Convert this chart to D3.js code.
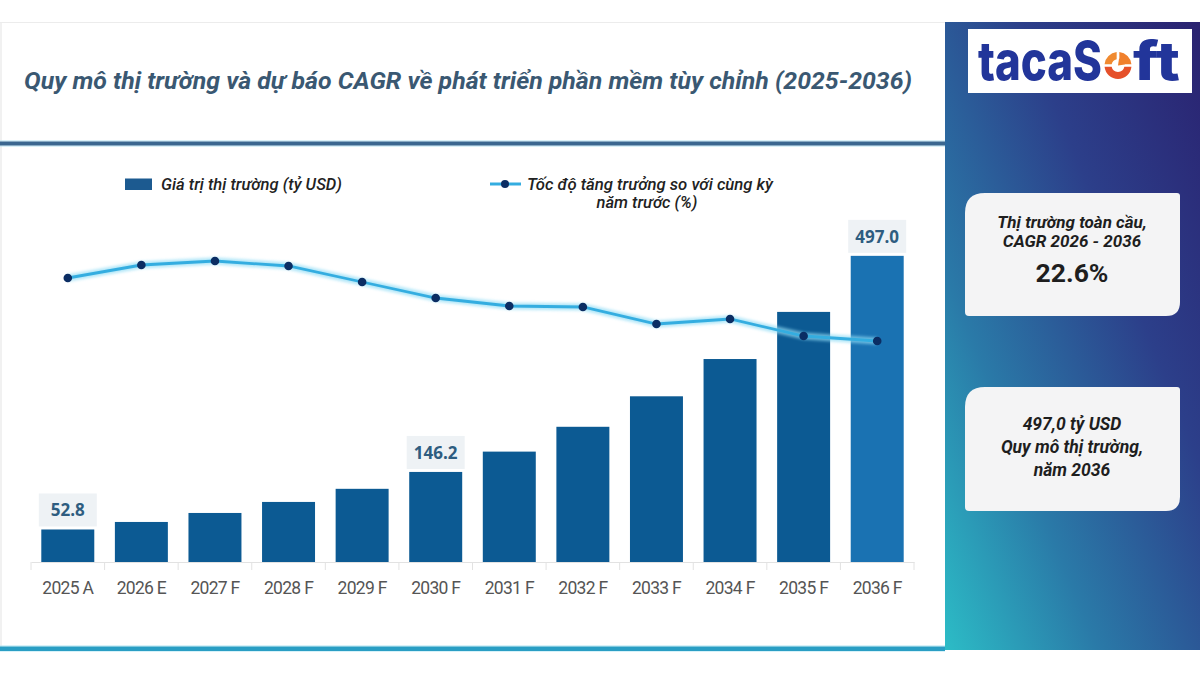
<!DOCTYPE html>
<html><head><meta charset="utf-8">
<script src="https://cdn.jsdelivr.net/npm/d3@7"></script>
<style>html,body{margin:0;padding:0;background:#fff;}svg{display:block;}</style>
</head><body><div id="chart"></div>
<script>
const categories = ["2025 A","2026 E","2027 F","2028 F","2029 F","2030 F","2031 F","2032 F","2033 F","2034 F","2035 F","2036 F"];
const marketValues = [52.8, 65.0, 79.6, 97.5, 118.8, 146.2, 179.2, 219.5, 269.0, 329.5, 406.0, 497.0];
const growthValues = [24.2, 25.5, 25.9, 25.4, 23.8, 22.2, 21.4, 21.3, 19.6, 20.1, 18.4, 17.9];
const labeledCategories = ["2025 A","2030 F","2036 F"];
const title = "Quy mô thị trường và dự báo CAGR về phát triển phần mềm tùy chỉnh (2025-2036)";
const legendBar = "Giá trị thị trường (tỷ USD)";
const legendLine = ["Tốc độ tăng trưởng so với cùng kỳ", "năm trước (%)"];
const box1 = ["Thị trường toàn cầu,", "CAGR 2026 - 2036", "22.6%"];
const box2 = ["497,0 tỷ USD", "Quy mô thị trường,", "năm 2036"];

const W = 1200, H = 675;
const svg = d3.select("#chart").append("svg").attr("width", W).attr("height", H);
const defs = svg.append("defs");

// panel gradient
const g = defs.append("linearGradient").attr("id","panelGrad")
  .attr("x1","1").attr("y1","0").attr("x2","0").attr("y2","1");
g.append("stop").attr("offset","0").attr("stop-color","#2a2270");
g.append("stop").attr("offset","0.35").attr("stop-color","#2c3f8a");
g.append("stop").attr("offset","0.7").attr("stop-color","#2a7aa8");
g.append("stop").attr("offset","1").attr("stop-color","#2cbcc6");

const glow = defs.append("filter").attr("id","glow").attr("x","-10%").attr("y","-50%").attr("width","120%").attr("height","200%");
glow.append("feGaussianBlur").attr("stdDeviation","1.6");

// card
svg.append("rect").attr("x",0).attr("y",0).attr("width",W).attr("height",H).attr("fill","#fff");
svg.append("line").attr("x1",0).attr("x2",945).attr("y1",22.5).attr("y2",22.5).attr("stroke","#ececec").attr("stroke-width",1);
svg.append("line").attr("x1",1).attr("x2",1).attr("y1",22).attr("y2",648).attr("stroke","#ececec").attr("stroke-width",1.5);

// title
svg.append("text").attr("x",24).attr("y",89)
  .attr("font-family","Roboto, sans-serif").attr("font-weight",700).attr("font-style","italic")
  .attr("font-size",23.5).attr("fill","#3a5872")
  .attr("textLength",888).attr("lengthAdjust","spacingAndGlyphs")
  .text(title);

// separator lines
svg.append("rect").attr("x",0).attr("y",140).attr("width",945).attr("height",7).attr("fill","#bfe6f3").attr("opacity",0.6);
svg.append("rect").attr("x",0).attr("y",141.5).attr("width",945).attr("height",4).attr("fill","#3b6790");
svg.append("rect").attr("x",0).attr("y",645).attr("width",945).attr("height",7).attr("fill","#bdeaf5").attr("opacity",0.6);
svg.append("rect").attr("x",0).attr("y",646.5).attr("width",945).attr("height",4.5).attr("fill","#2a9ec4");

// scales
const x = d3.scaleBand().domain(categories).range([31, 914]).paddingInner(0.28).paddingOuter(0.14);
const y = d3.scaleLinear().domain([0, 500]).range([562, 254]);
const yLine = d3.scaleLinear().domain([0, 30]).range([520, 220]);

// axis
const axis = d3.axisBottom(x).tickSize(0).tickPadding(20);
const ax = svg.append("g").attr("transform","translate(0,562)").call(axis);
ax.select(".domain").attr("stroke","#e2e2e2").attr("stroke-width",1.2);
ax.selectAll("text").attr("font-family","Roboto, sans-serif").attr("font-size",17.5).attr("fill","#555").attr("letter-spacing","-0.7px");
const step = x.step();
const boundaries = categories.map(c => x(c) - step * x.paddingInner() / 2).concat([x(categories[categories.length-1]) + x.bandwidth() + step * x.paddingInner() / 2]);
svg.append("g").selectAll("line").data(boundaries).join("line")
  .attr("x1", d => d).attr("x2", d => d).attr("y1", 562).attr("y2", 570)
  .attr("stroke","#e2e2e2").attr("stroke-width",1);

// bars
svg.append("g").selectAll("rect").data(categories).join("rect")
  .attr("x", c => x(c)).attr("width", x.bandwidth())
  .attr("y", (c,i) => y(marketValues[i])).attr("height", (c,i) => y(0) - y(marketValues[i]))
  .attr("fill", (c,i) => i === categories.length-1 ? "#1a72b2" : "#0c5a93");

// value labels
const lab = svg.append("g").selectAll("g").data(categories.filter(c => labeledCategories.includes(c))).join("g");
lab.append("rect")
  .attr("x", c => x(c) + x.bandwidth()/2 - 29)
  .attr("y", c => y(marketValues[categories.indexOf(c)]) - 36)
  .attr("width", 58).attr("height", 33).attr("fill","#eef2f5");
lab.append("text")
  .attr("x", c => x(c) + x.bandwidth()/2)
  .attr("y", c => y(marketValues[categories.indexOf(c)]) - 13)
  .attr("text-anchor","middle").attr("font-family","'Open Sans', sans-serif").attr("font-weight",700)
  .attr("font-size",17).attr("fill","#2e5d80")
  .text(c => marketValues[categories.indexOf(c)].toFixed(1));

// line
const lineGen = d3.line().x((d,i) => x(categories[i]) + x.bandwidth()/2).y(d => yLine(d));
svg.append("path").datum(growthValues).attr("d", lineGen).attr("fill","none")
  .attr("stroke","#8fdcf5").attr("stroke-width",7).attr("opacity",0.7).attr("filter","url(#glow)");
svg.append("path").datum(growthValues).attr("d", lineGen).attr("fill","none")
  .attr("stroke","#34ade0").attr("stroke-width",2.8);
svg.append("g").selectAll("circle").data(growthValues).join("circle")
  .attr("cx",(d,i) => x(categories[i]) + x.bandwidth()/2).attr("cy", d => yLine(d))
  .attr("r",4.3).attr("fill","#0b2d63");

// legend
svg.append("rect").attr("x",125).attr("y",178.5).attr("width",27).attr("height",11.5).attr("fill","#1c5a90");
svg.append("text").attr("x",161).attr("y",189.5).attr("font-family","Roboto, sans-serif").attr("font-style","italic")
  .attr("font-weight",500).attr("font-size",16.5).attr("fill","#222").attr("textLength",181).attr("lengthAdjust","spacingAndGlyphs").text(legendBar);
svg.append("line").attr("x1",490).attr("x2",521).attr("y1",184).attr("y2",184).attr("stroke","#34ade0").attr("stroke-width",3);
svg.append("circle").attr("cx",505).attr("cy",184).attr("r",4).attr("fill","#0b2d63");
svg.append("text").attr("x",527).attr("y",189.5).attr("font-family","Roboto, sans-serif").attr("font-style","italic")
  .attr("font-weight",500).attr("font-size",16.5).attr("fill","#222").attr("textLength",246).attr("lengthAdjust","spacingAndGlyphs").text(legendLine[0]);
svg.append("text").attr("x",647).attr("y",207.5).attr("text-anchor","middle").attr("font-family","Roboto, sans-serif").attr("font-style","italic")
  .attr("font-weight",500).attr("font-size",16.5).attr("fill","#222").text(legendLine[1]);

// right panel
svg.append("rect").attr("x",945).attr("y",22).attr("width",255).attr("height",628).attr("fill","url(#panelGrad)");
svg.append("rect").attr("x",968).attr("y",29).attr("width",224).attr("height",64).attr("fill","#fff");
// logo
const logoColor = "#22359a";
svg.append("text").attr("x",978).attr("y",80).attr("font-family","Inter, sans-serif").attr("font-weight",800)
  .attr("font-size",54).attr("fill",logoColor).attr("textLength",124).attr("lengthAdjust","spacingAndGlyphs").text("tacaS");
svg.append("text").attr("x",1133).attr("y",80).attr("font-family","Inter, sans-serif").attr("font-weight",800)
  .attr("font-size",54).attr("fill",logoColor).attr("textLength",47).attr("lengthAdjust","spacingAndGlyphs").text("ft");
const arc = d3.arc().innerRadius(6.5).outerRadius(13.5).padAngle(0.18);
const oG = svg.append("g").attr("transform","translate(1118,65.5)");
[[-Math.PI/2, 0, "#f08a30"], [0, Math.PI/2, "#f0802c"], [Math.PI/2, 3*Math.PI/2, "#e5502a"]].forEach(s => {
  oG.append("path").attr("d", arc({startAngle:s[0], endAngle:s[1]})).attr("fill", s[2]);
});
oG.append("path").attr("d", d3.arc().innerRadius(0).outerRadius(7)({startAngle:0.15, endAngle:Math.PI/2-0.15})).attr("fill","#f0802c");

// boxes
function boxPath(x0, y0, w, h, tl, tr, br, bl) {
  return `M${x0+tl},${y0} H${x0+w-tr} Q${x0+w},${y0} ${x0+w},${y0+tr} V${y0+h-br} Q${x0+w},${y0+h} ${x0+w-br},${y0+h} H${x0+bl} Q${x0},${y0+h} ${x0},${y0+h-bl} V${y0+tl} Q${x0},${y0} ${x0+tl},${y0} Z`;
}
svg.append("path").attr("d", boxPath(965, 193, 215, 123, 20, 3, 14, 4)).attr("fill","#f4f4f5");
svg.append("path").attr("d", boxPath(965, 387, 215, 124, 20, 3, 14, 4)).attr("fill","#f4f4f5");
const bx = 1072;
const tStyle = s => s.attr("text-anchor","middle").attr("font-family","Roboto, sans-serif").attr("font-weight",700).attr("fill","#1e1e1e");
tStyle(svg.append("text").attr("x",bx).attr("y",228).attr("font-size",17).attr("font-style","italic")).text(box1[0]);
tStyle(svg.append("text").attr("x",bx).attr("y",247).attr("font-size",17).attr("font-style","italic")).text(box1[1]);
tStyle(svg.append("text").attr("x",bx).attr("y",282).attr("font-size",26.5)).text(box1[2]);
tStyle(svg.append("text").attr("x",bx).attr("y",430).attr("font-size",17.5).attr("font-style","italic")).text(box2[0]);
tStyle(svg.append("text").attr("x",bx).attr("y",453).attr("font-size",17.5).attr("font-style","italic")).text(box2[1]);
tStyle(svg.append("text").attr("x",bx).attr("y",476).attr("font-size",17.5).attr("font-style","italic")).text(box2[2]);
</script></body></html>
